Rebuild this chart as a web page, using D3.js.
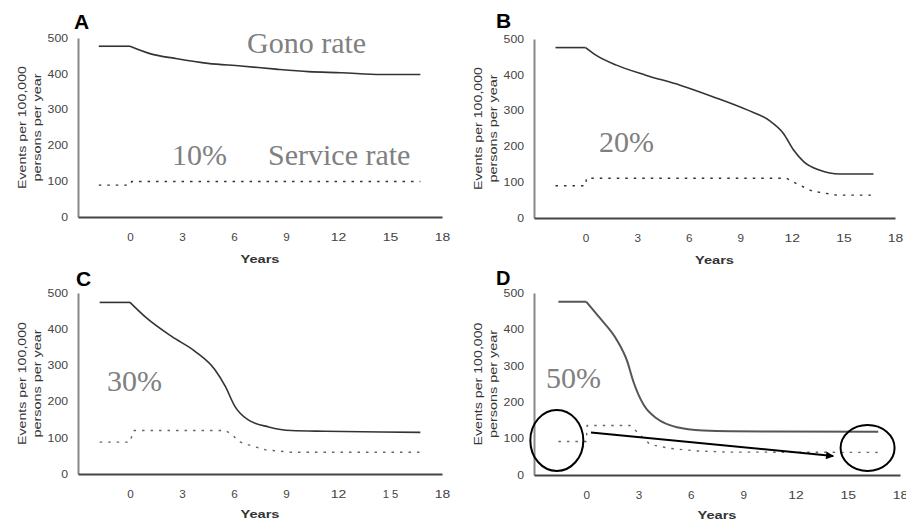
<!DOCTYPE html>
<html>
<head>
<meta charset="utf-8">
<script src="https://cdn.jsdelivr.net/npm/d3@7"></script>
<style>
  html, body { margin: 0; padding: 0; background: #fff; }
  svg { display: block; }
</style>
</head>
<body>
<svg id="chart" width="906" height="520"></svg>
<script>
// ---------------- DATA ----------------
const panelLetters = ["A", "B", "C", "D"];
const coverageLabels = ["10%", "20%", "30%", "50%"];
const xTicks = [0, 3, 6, 9, 12, 15, 18];
const yTicks = [0, 100, 200, 300, 400, 500];
const xTickLabelsC = ["0", "3", "6", "9", "12", "1 5", "18"];

const gonoA_x = [-1.8, 0, 1.25, 2.6, 4.5, 6.4, 8.4, 10.3, 12.2, 14.5, 16.75];
const gonoA_y = [477, 477, 455, 443, 429, 422, 413, 406, 403, 398, 398];
const servA_x = [-1.8, 0, 0.1, 16.75];
const servA_y = [89, 89, 99, 99];

const gonoB_x = [-1.75, 0, 0.6, 1.8, 3.5, 5.5, 7.4, 9.4, 10.7, 11.5, 12.1, 12.7, 13.6, 14.8, 16.75];
const gonoB_y = [476, 476, 455, 427, 399, 371, 339, 302, 272, 237, 190, 157, 134, 123, 123];
const servB_x = [-1.75, 0, 0.05, 11.7, 12.3, 13.2, 14.6, 16.75];
const servB_y = [90, 90, 111, 111, 95, 75, 64, 64];

const gonoC_x = [-1.75, 0, 0.95, 2.4, 3.75, 4.9, 5.5, 6.05, 6.8, 8, 9.3, 11.25, 14.5, 16.75];
const gonoC_y = [474, 474, 431, 380, 339, 288, 242, 187, 150, 130, 120, 118, 116, 115];
const servC_x = [-1.75, 0, 0.2, 5.5, 5.9, 6.25, 6.8, 7.8, 9.3, 16.75];
const servC_y = [88, 88, 120, 120, 109, 90, 81, 67, 60, 60];

const gonoD_x = [-1.6, 0, 0.8, 1.75, 2.35, 2.7, 3.3, 4.05, 5.2, 6.7, 8.3, 16.75];
const gonoD_y = [476, 476, 430, 371, 312, 257, 192, 155, 131, 122, 120, 119];
const servD_x = [-1.6, 0, 0.05, 2.5, 2.9, 3.65, 4.8, 6.35, 8.1, 16.75];
const servD_y = [92, 92, 136, 136, 119, 84, 73, 66, 63, 62];

// annotation (panel D): circled regions and arrow, in data units
const circleYears = [-1.69, 16.14];
const circleValues = [95, 74];
const arrowYears = [0.27, 14.17];
const arrowValues = [117, 52];

// ---------------- LAYOUT ----------------
const panels = [
  { gx: gonoA_x, gy: gonoA_y, sx: servA_x, sy: servA_y, xr: [78, 442], yr: [217, 38],
    letter: [74, 29], lab: [172, 165], gonoColor: "#333" },
  { gx: gonoB_x, gy: gonoB_y, sx: servB_x, sy: servB_y, xr: [534, 895], yr: [218, 39],
    letter: [496, 28], lab: [599, 152], gonoColor: "#333" },
  { gx: gonoC_x, gy: gonoC_y, sx: servC_x, sy: servC_y, xr: [78, 442], yr: [474, 293],
    letter: [76, 286], lab: [107, 391], gonoColor: "#333" },
  { gx: gonoD_x, gy: gonoD_y, sx: servD_x, sy: servD_y, xr: [534, 900], yr: [475, 293],
    letter: [496, 285], lab: [546, 388], gonoColor: "#555" }
];

const svg = d3.select("#chart");
const defs = svg.append("defs");
defs.append("marker")
  .attr("id", "arrowhead")
  .attr("viewBox", "0 0 10 10")
  .attr("refX", 9).attr("refY", 5)
  .attr("markerWidth", 5).attr("markerHeight", 4)
  .attr("orient", "auto")
  .attr("markerUnits", "strokeWidth")
  .append("path").attr("d", "M0,0 L10,5 L0,10 Z").attr("fill", "#000");

const annoFont = "'Liberation Serif', 'Times New Roman', serif";
const sansFont = "'Liberation Sans', Arial, Helvetica, sans-serif";

panels.forEach((p, i) => {
  const g = svg.append("g");
  const x = d3.scaleLinear().domain([-3, 18]).range(p.xr);
  const y = d3.scaleLinear().domain([0, 500]).range(p.yr);

  // y axis
  const ya = g.append("g")
    .attr("transform", `translate(${p.xr[0]},0)`)
    .call(d3.axisLeft(y).tickValues(yTicks).tickSize(0).tickPadding(10));
  ya.select(".domain").attr("stroke", "#888").attr("stroke-width", 2);
  ya.selectAll("text")
    .attr("font-family", sansFont).attr("font-size", 10).attr("fill", "#444")
    .attr("textLength", d => String(d).length * 6.8)
    .attr("lengthAdjust", "spacingAndGlyphs");

  // x axis
  const xa = g.append("g")
    .attr("transform", `translate(0,${p.yr[0]})`)
    .call(d3.axisBottom(x).tickValues(xTicks).tickSize(0).tickPadding(17)
      .tickFormat((d, k) => i === 2 ? xTickLabelsC[k] : String(d)));
  xa.select(".domain").attr("stroke", "#444").attr("stroke-width", 2);
  xa.selectAll("text")
    .attr("font-family", sansFont).attr("font-size", 10).attr("fill", "#444")
    .attr("textLength", d => String(d).length === 1 ? 6.5 : 15.5)
    .attr("lengthAdjust", "spacingAndGlyphs");

  // axis titles
  const midY = (p.yr[0] + p.yr[1]) / 2;
  const titles = ["Events per 100,000", "persons per year"];
  const offs = [-52, -37];
  const lens = [123, 108];
  titles.forEach((t, k) => {
    g.append("text")
      .attr("transform", `translate(${p.xr[0] + offs[k]},${midY}) rotate(-90)`)
      .attr("text-anchor", "middle")
      .attr("font-family", sansFont).attr("font-size", 10).attr("fill", "#333")
      .attr("textLength", lens[k]).attr("lengthAdjust", "spacingAndGlyphs")
      .text(t);
  });
  g.append("text")
    .attr("x", (p.xr[0] + p.xr[1]) / 2)
    .attr("y", p.yr[0] + (i < 2 ? 46 : 44))
    .attr("text-anchor", "middle")
    .attr("font-family", sansFont).attr("font-size", 10).attr("font-weight", "bold")
    .attr("fill", "#333")
    .attr("textLength", 39).attr("lengthAdjust", "spacingAndGlyphs")
    .text("Years");

  // panel letter
  g.append("text")
    .attr("x", p.letter[0]).attr("y", p.letter[1])
    .attr("font-family", sansFont).attr("font-size", i === 3 ? 20 : 21).attr("font-weight", "bold")
    .attr("fill", "#000")
    .text(panelLetters[i]);

  // lines: flat pre-period drawn straight, decline drawn as a smooth monotone curve
  const gono = p.gx.map((v, k) => [v, p.gy[k]]);
  const serv = p.sx.map((v, k) => [v, p.sy[k]]);
  const flatLine = d3.line().x(d => x(d[0])).y(d => y(d[1]));
  const gonoLine = d3.line().x(d => x(d[0])).y(d => y(d[1])).curve(d3.curveMonotoneX);
  const servLine = d3.line().x(d => x(d[0])).y(d => y(d[1]));
  const sw = i === 3 ? 2 : 1.6;
  g.append("path").datum(gono.slice(0, 2))
    .attr("d", flatLine).attr("fill", "none")
    .attr("stroke", p.gonoColor).attr("stroke-width", sw);
  g.append("path").datum(gono.slice(1))
    .attr("d", gonoLine).attr("fill", "none")
    .attr("stroke", p.gonoColor).attr("stroke-width", sw)
    .attr("stroke-linejoin", "round");
  g.append("path").datum(serv)
    .attr("d", servLine).attr("fill", "none")
    .attr("stroke", i >= 2 ? "#666" : "#333").attr("stroke-width", 1.4)
    .attr("stroke-dasharray", "2.5,6");

  // coverage label
  g.append("text")
    .attr("x", p.lab[0]).attr("y", p.lab[1])
    .attr("font-family", annoFont).attr("font-size", 30).attr("fill", "#808080")
    .text(coverageLabels[i]);

  if (i === 0) {
    g.append("text").attr("x", 247).attr("y", 53)
      .attr("font-family", annoFont).attr("font-size", 30).attr("fill", "#808080")
      .text("Gono rate");
    g.append("text").attr("x", 268).attr("y", 165)
      .attr("font-family", annoFont).attr("font-size", 30).attr("fill", "#808080")
      .text("Service rate");
  }

  if (i === 3) {
    const radii = [[26.5, 30.5], [27, 23]];
    circleYears.forEach((cy, k) => {
      g.append("ellipse")
        .attr("cx", x(cy)).attr("cy", y(circleValues[k]))
        .attr("rx", radii[k][0]).attr("ry", radii[k][1])
        .attr("fill", "none").attr("stroke", "#000").attr("stroke-width", 2);
    });
    g.append("line")
      .attr("x1", x(arrowYears[0])).attr("y1", y(arrowValues[0]))
      .attr("x2", x(arrowYears[1])).attr("y2", y(arrowValues[1]))
      .attr("stroke", "#000").attr("stroke-width", 2)
      .attr("marker-end", "url(#arrowhead)");
  }
});
</script>
</body>
</html>
